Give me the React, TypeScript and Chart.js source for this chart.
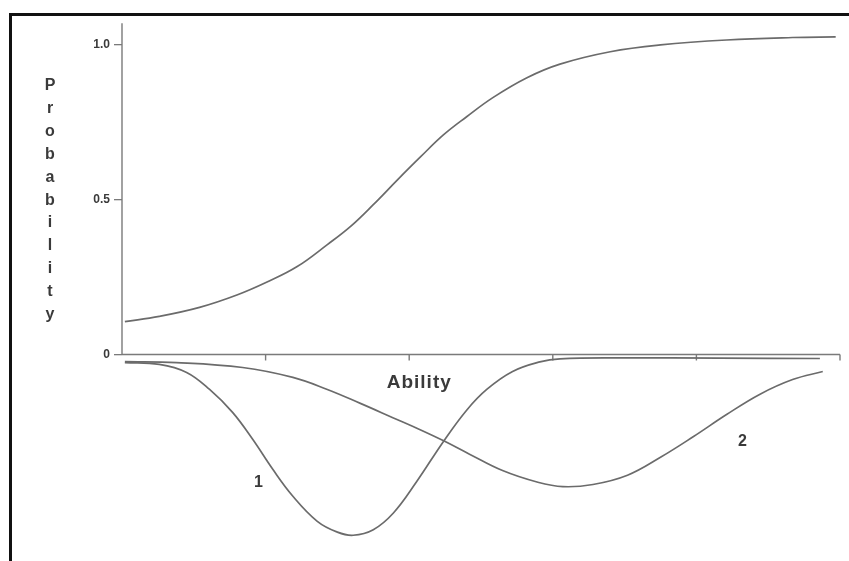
import React, { useEffect, useRef } from "react";
import { Chart, registerables } from "chart.js";

Chart.register(...registerables);

// Item characteristic curve (probability of correct answer)
const iccAbility = [0.02, 0.26, 0.54, 0.8, 1.01, 1.22, 1.43, 1.59, 1.75, 1.92, 2.08, 2.24, 2.4, 2.58, 2.82, 3.05, 3.4, 3.75, 4.21, 4.67, 4.97];
const iccProbability = [0.106, 0.123, 0.152, 0.192, 0.234, 0.284, 0.355, 0.413, 0.484, 0.565, 0.639, 0.71, 0.768, 0.829, 0.894, 0.938, 0.978, 1.0, 1.016, 1.024, 1.026];

// Curve "1" (below the axis)
const curve1Ability = [0.02, 0.26, 0.45, 0.61, 0.77, 0.91, 1.05, 1.19, 1.36, 1.5, 1.61, 1.75, 1.89, 2.05, 2.24, 2.4, 2.54, 2.72, 2.91, 3.05, 3.47, 4.16, 4.86];
const curve1Value = [-0.026, -0.032, -0.058, -0.113, -0.187, -0.274, -0.371, -0.458, -0.539, -0.574, -0.584, -0.566, -0.512, -0.412, -0.28, -0.18, -0.113, -0.055, -0.024, -0.014, -0.011, -0.012, -0.013];

// Curve "2" (below the axis)
const curve2Ability = [0.02, 0.38, 0.84, 1.19, 1.43, 1.66, 1.89, 2.08, 2.24, 2.42, 2.65, 2.89, 3.07, 3.28, 3.52, 3.75, 3.98, 4.21, 4.44, 4.67, 4.88];
const curve2Value = [-0.023, -0.026, -0.042, -0.074, -0.113, -0.158, -0.205, -0.244, -0.279, -0.322, -0.375, -0.412, -0.427, -0.42, -0.39, -0.332, -0.265, -0.194, -0.129, -0.081, -0.055];

// Axis ticks
const yTickValues = [0, 0.5, 1.0];
const yTickLabels = ["0", "0.5", "1.0"];
const xTickValues = [1, 2, 3, 4, 5];

// Text
const xTitle = "Ability";
const yTitle = "Probability";
const curveLabels = ["1", "2"];

const toPoints = (xs: number[], ys: number[]) => xs.map((x, i) => ({ x, y: ys[i] }));

const LINE = "#6b6b6b";
const AXIS = "#7a7a7a";
const TEXT = "#3a3a3a";

const axesPlugin = {
  id: "customAxes",
  beforeDatasetsDraw(chart: any) {
    const { ctx, scales } = chart;
    const xs = scales.x;
    const ys = scales.y;
    const y0 = ys.getPixelForValue(0);
    const xL = xs.getPixelForValue(0);
    const xR = xs.getPixelForValue(5);
    ctx.save();
    ctx.strokeStyle = AXIS;
    ctx.lineWidth = 1.4;
    ctx.beginPath();
    ctx.moveTo(xL, y0);
    ctx.lineTo(xR, y0);
    ctx.stroke();
    xTickValues.forEach((v) => {
      const px = xs.getPixelForValue(v);
      ctx.beginPath();
      ctx.moveTo(px, y0);
      ctx.lineTo(px, y0 + 6);
      ctx.stroke();
    });
    ctx.beginPath();
    ctx.moveTo(xL, y0);
    ctx.lineTo(xL, ys.getPixelForValue(1.07));
    ctx.stroke();
    ctx.restore();
  },
  afterDraw(chart: any) {
    const { ctx, scales } = chart;
    const xs = scales.x;
    const ys = scales.y;
    ctx.save();
    ctx.fillStyle = TEXT;
    ctx.textAlign = "center";
    ctx.textBaseline = "middle";
    ctx.font = "bold 19px 'Liberation Sans', Arial, sans-serif";
    (ctx as any).letterSpacing = "1px";
    ctx.fillText(xTitle, xs.getPixelForValue(2.07), ys.getPixelForValue(-0.09));
    (ctx as any).letterSpacing = "0px";
    ctx.font = "bold 16px 'Liberation Sans', Arial, sans-serif";
    ctx.fillText(curveLabels[0], xs.getPixelForValue(0.95), ys.getPixelForValue(-0.415));
    ctx.fillText(curveLabels[1], xs.getPixelForValue(4.32), ys.getPixelForValue(-0.28));
    ctx.font = "bold 16px 'Liberation Sans', Arial, sans-serif";
    ctx.textBaseline = "alphabetic";
    yTitle.split("").forEach((ch, i) => {
      ctx.fillText(ch, 50, 90 + i * 22.9);
    });
    ctx.restore();
  },
};

export default function App() {
  const ref = useRef<HTMLCanvasElement | null>(null);

  useEffect(() => {
    if (!ref.current) return;
    const chart = new Chart(ref.current, {
      type: "line",
      data: {
        datasets: [
          { data: toPoints(iccAbility, iccProbability) },
          { data: toPoints(curve1Ability, curve1Value) },
          { data: toPoints(curve2Ability, curve2Value) },
        ].map((d) => ({
          ...d,
          borderColor: LINE,
          borderWidth: 1.7,
          pointRadius: 0,
          fill: false,
          tension: 0.4,
        })),
      },
      options: {
        responsive: false,
        animation: false,
        layout: { padding: { left: 82, right: 9, top: 14, bottom: 5 } },
        plugins: { legend: { display: false }, tooltip: { enabled: false }, title: { display: false } },
        scales: {
          x: { type: "linear", min: 0, max: 5, display: false },
          y: {
            type: "linear",
            min: -0.631,
            max: 1.1,
            position: "left",
            border: { display: false },
            grid: { drawOnChartArea: false, drawTicks: true, tickLength: 8, color: AXIS, lineWidth: 1.3 },
            ticks: {
              padding: 4,
              color: TEXT,
              font: { family: "'Liberation Sans', Arial, sans-serif", weight: "bold", size: 12 },
              callback: (v: any) => {
                const i = yTickValues.indexOf(Number(v));
                return i >= 0 ? yTickLabels[i] : "";
              },
            },
            afterBuildTicks: (scale: any) => {
              scale.ticks = yTickValues.map((v) => ({ value: v }));
            },
            afterFit: (scale: any) => {
              scale.width = 40;
            },
          },
        },
      },
      plugins: [axesPlugin],
    });
    return () => chart.destroy();
  }, []);

  return (
    <div style={{ position: "absolute", left: 0, top: 0, width: 849, height: 561, background: "#fff", overflow: "hidden" }}>
      <canvas ref={ref} width={849} height={561} style={{ display: "block", width: 849, height: 561 }} />
      <div
        style={{
          position: "absolute",
          left: 9,
          top: 13,
          width: 849,
          height: 561,
          borderTop: "3px solid #111",
          borderLeft: "3px solid #111",
          pointerEvents: "none",
        }}
      />
    </div>
  );
}
